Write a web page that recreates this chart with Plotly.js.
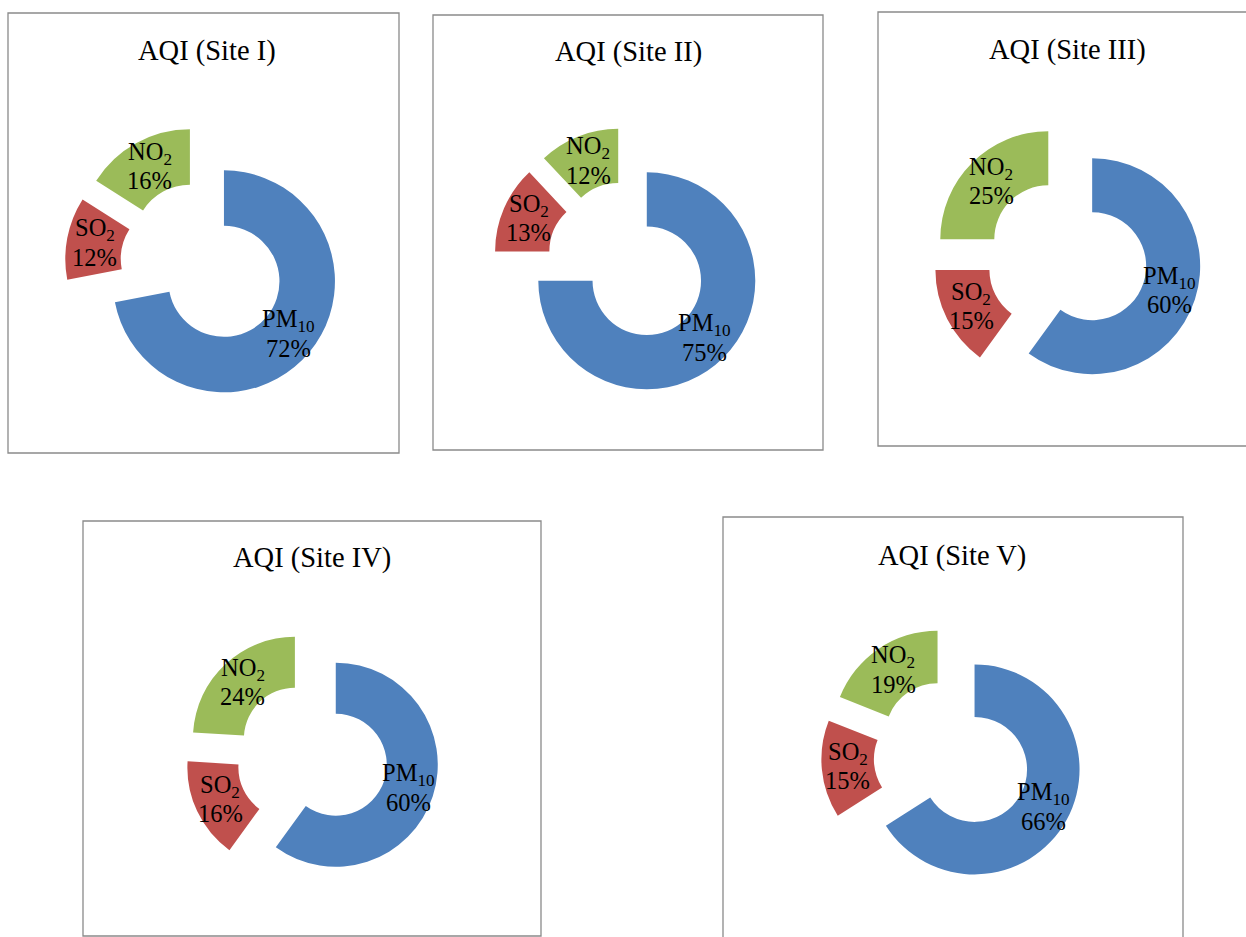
<!DOCTYPE html>
<html>
<head>
<meta charset="utf-8">
<script src="https://cdn.plot.ly/plotly-3.0.1.min.js"></script>
<style>
  html, body { margin: 0; padding: 0; background: #ffffff; }
  #chart { width: 1246px; height: 937px; }
</style>
</head>
<body>
<div id="chart"></div>
<script>
// Pollutant share of the Air Quality Index at five monitoring sites
const pollutants = ['PM<sub>10</sub>', 'SO<sub>2</sub>', 'NO<sub>2</sub>'];
const siteNames = ['Site I', 'Site II', 'Site III', 'Site IV', 'Site V'];
const siteI   = [72, 12, 16];
const siteII  = [75, 13, 12];
const siteIII = [60, 15, 25];
const siteIV  = [60, 16, 24];
const siteV   = [66, 15, 19];
const siteValues = [siteI, siteII, siteIII, siteIV, siteV];

const sliceColors = ['#4F81BD', '#C0504D', '#9BBB59'];

// Panel geometry in pixels: ring centre, outer radius, frame box and title position
const W = 1246, H = 937;
const PULL = 0.245, HOLE = 0.5;
const LABEL_SIZE = 24.5, LINE_GAP = 27.5;
const panels = [
  { cx: 203,  cy: 264, r: 111,   box: [8, 13, 399, 453],      tx: 207,  ty: 51 },
  { cx: 628,  cy: 262, r: 108.5, box: [433, 15, 823, 450],    tx: 628,  ty: 52 },
  { cx: 1067, cy: 258, r: 108,   box: [878, 12, 1250, 446],   tx: 1067, ty: 50 },
  { cx: 312,  cy: 757, r: 102,   box: [83, 521, 541, 936],    tx: 312,  ty: 558 },
  { cx: 952,  cy: 757, r: 105,   box: [723, 517, 1183, 945],  tx: 952,  ty: 556 }
];

const serif = '"Liberation Serif", "Times New Roman", Times, serif';

const traces = siteValues.map((vals, i) => {
  const p = panels[i];
  const half = p.r * (1 + PULL);
  return {
    type: 'pie',
    labels: pollutants,
    values: vals,
    sort: false,
    direction: 'clockwise',
    rotation: 0,
    hole: HOLE,
    pull: vals.map(() => PULL),
    marker: { colors: sliceColors, line: { width: 0 } },
    textinfo: 'none',
    hoverinfo: 'label+value',
    showlegend: false,
    domain: {
      x: [(p.cx - half) / W, (p.cx + half) / W],
      y: [1 - (p.cy + half) / H, 1 - (p.cy - half) / H]
    }
  };
});

const shapes = panels.map(p => ({
  type: 'rect', xref: 'paper', yref: 'paper',
  x0: p.box[0] / W, x1: p.box[2] / W,
  y0: 1 - p.box[3] / H, y1: 1 - p.box[1] / H,
  line: { color: '#8a8a8a', width: 1.3 },
  fillcolor: 'rgba(0,0,0,0)',
  layer: 'below'
}));

function textNote(x, y, text, size) {
  return {
    xref: 'paper', yref: 'paper',
    x: x / W, y: 1 - y / H,
    xanchor: 'center', yanchor: 'middle',
    text: text,
    showarrow: false,
    font: { family: serif, size: size, color: '#000000' }
  };
}

const annotations = [];
panels.forEach((p, i) => {
  annotations.push(textNote(p.tx, p.ty, 'AQI (' + siteNames[i] + ')', 28.5));

  // Data labels: centred in the ring band of each pulled-out slice,
  // along the slice's mid angle (clockwise from 12 o'clock)
  const vals = siteValues[i];
  const total = vals.reduce((a, b) => a + b, 0);
  let cum = 0;
  vals.forEach((v, k) => {
    const mid = 2 * Math.PI * (cum + v / 2) / total;
    cum += v;
    const dist = p.r * (PULL + (1 + HOLE) / 2);
    const lx = p.cx + dist * Math.sin(mid);
    const ly = p.cy - dist * Math.cos(mid);
    annotations.push(textNote(lx, ly - LINE_GAP / 2, pollutants[k], LABEL_SIZE));
    annotations.push(textNote(lx, ly + LINE_GAP / 2, v + '%', LABEL_SIZE));
  });
});

const layout = {
  width: W, height: H,
  margin: { l: 0, r: 0, t: 0, b: 0 },
  paper_bgcolor: '#ffffff',
  plot_bgcolor: '#ffffff',
  shapes: shapes,
  annotations: annotations
};

Plotly.newPlot('chart', traces, layout, { displayModeBar: false, staticPlot: true });
</script>
</body>
</html>
